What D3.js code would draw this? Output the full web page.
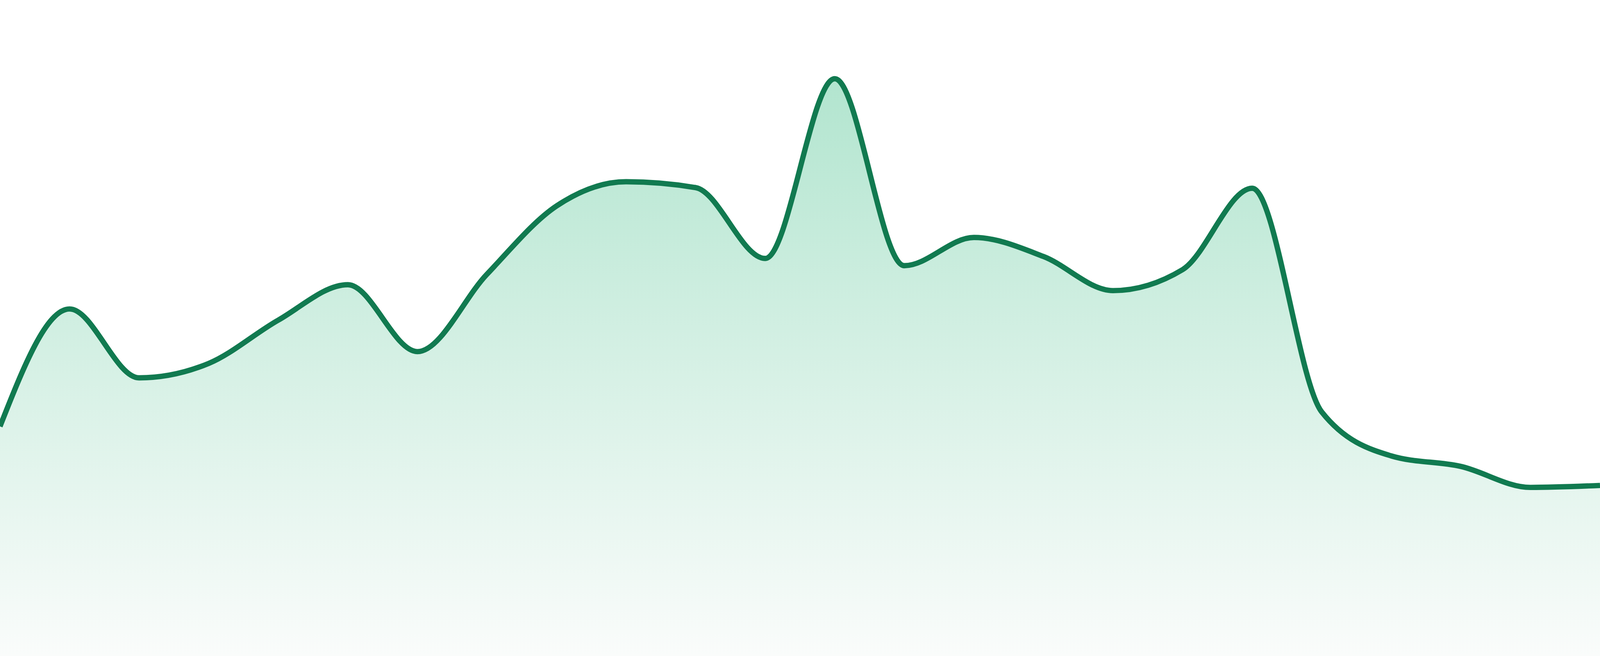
<!DOCTYPE html>
<html>
<head>
<meta charset="utf-8">
<script src="https://cdn.jsdelivr.net/npm/d3@7"></script>
<style>
  html, body { margin: 0; padding: 0; background: #fff; overflow: hidden; }
  svg { display: block; }
</style>
</head>
<body>
<script>
/* data: one value per step */
const steps = [0, 1, 2, 3, 4, 5, 6, 7, 8, 9, 10, 11, 12, 13, 14, 15, 16, 17, 18, 19, 20, 21, 22, 23];
const values = [35.0, 52.9, 42.4, 44.6, 51.2, 56.6, 46.4, 58.2, 68.6, 72.3, 71.4, 60.6,
                88.0, 59.5, 63.8, 60.9, 55.7, 58.9, 71.3, 37.2, 30.5, 28.9, 25.7, 26.0];
const yDomain = [0, 100];

// fit the visible window (falls back to the design size)
const width = window.innerWidth || 4800,
  height = window.innerHeight || 1680;
const strokeW = 16 * width / 4800;

/* scales */
const xScale = d3.scaleLinear().domain(d3.extent(steps)).range([0, width]);
const yScale = d3.scaleLinear().domain(yDomain).range([height, 0]);

const data = steps.map((s, i) => ({ x: s, y: values[i] }));

const svg = d3.select('body').append('svg')
  .attr('width', width)
  .attr('height', height);

// vertical gradient for the fill
const grad = svg.append('defs').append('linearGradient')
  .attr('id', 'fill-grad')
  .attr('x1', 0).attr('y1', 0)
  .attr('x2', 0).attr('y2', 1);
grad.append('stop').attr('offset', '0%').attr('stop-color', '#b2e5cf');
grad.append('stop').attr('offset', '100%').attr('stop-color', '#fafcfb');

const area = d3.area()
  .x(d => xScale(d.x))
  .y0(yScale(yDomain[0]))
  .y1(d => yScale(d.y))
  .curve(d3.curveMonotoneX);

const line = d3.line()
  .x(d => xScale(d.x))
  .y(d => yScale(d.y))
  .curve(d3.curveMonotoneX);

svg.append('path')
  .datum(data)
  .attr('d', area)
  .attr('fill', 'url(#fill-grad)');

svg.append('path')
  .datum(data)
  .attr('d', line)
  .attr('fill', 'none')
  .attr('stroke', '#117a50')
  .attr('stroke-width', strokeW)
  .attr('stroke-linejoin', 'round');
</script>
</body>
</html>
